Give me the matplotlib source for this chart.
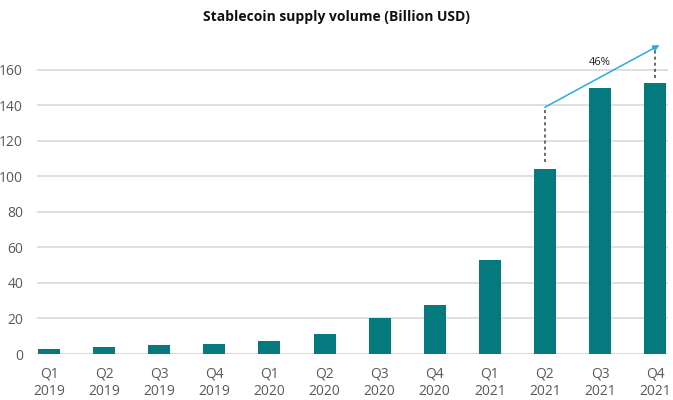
import numpy as np
import matplotlib
matplotlib.use("Agg")
import matplotlib.pyplot as plt

plt.rcParams['font.family'] = ['Open Sans', 'DejaVu Sans']

quarters = ['Q1\n2019', 'Q2\n2019', 'Q3\n2019', 'Q4\n2019',
            'Q1\n2020', 'Q2\n2020', 'Q3\n2020', 'Q4\n2020',
            'Q1\n2021', 'Q2\n2021', 'Q3\n2021', 'Q4\n2021']
supply = [3.0, 4.0, 5.3, 5.8, 7.5, 11.5, 20.5, 27.5, 53.0, 104.0, 150.0, 152.5]
yticks = [0, 20, 40, 60, 80, 100, 120, 140, 160]
growth_label = '46%'

bar_color = '#047a7f'
grid_color = '#d9d9d9'
text_color = '#595959'

fig = plt.figure(figsize=(6.73, 4.0), dpi=100)
ax = fig.add_axes([0.055, 0.115, 0.938, 0.79])

x = np.arange(len(quarters))
ax.bar(x, supply, width=0.4, color=bar_color, zorder=3)

ax.set_xlim(-0.22, len(quarters) - 0.76)
ax.set_ylim(0, 178)
ax.set_yticks(yticks)
ax.set_xticks(x)
ax.set_xticklabels(quarters)
ax.yaxis.grid(True, color=grid_color, lw=1.2, zorder=0)
ax.axhline(0, color=grid_color, lw=1.5, zorder=2)
for s in ax.spines.values():
    s.set_visible(False)
ax.tick_params(axis='both', length=0, labelsize=10, colors=text_color)
ax.tick_params(axis='x', pad=9)
ax.tick_params(axis='y', pad=10)
for lbl in ax.get_xticklabels():
    lbl.set_linespacing(1.25)

# growth annotation Q2 -> Q4 2021
i0, i1 = 9, 11
ax.plot([i0, i0], [supply[i0] + 4, 139], ls=(0, (2, 2)), color='#404040', lw=1.1, zorder=4)
ax.plot([i1, i1], [supply[i1] + 3, 171], ls=(0, (2, 2)), color='#404040', lw=1.1, zorder=4)
ax.annotate('', xy=(i1 + 0.08, 174), xytext=(i0, 139),
            arrowprops=dict(arrowstyle='-|>', color='#29abe2', lw=1.1,
                            mutation_scale=9, shrinkA=0, shrinkB=0), zorder=5)
ax.text(10.0, 161, growth_label, fontsize=8, color='#222222', ha='center', va='bottom')

fig.suptitle('Stablecoin supply volume (Billion USD)', fontsize=10,
             fontweight='bold', color='#111111', y=0.975)

fig.savefig('out.png', dpi=100)
